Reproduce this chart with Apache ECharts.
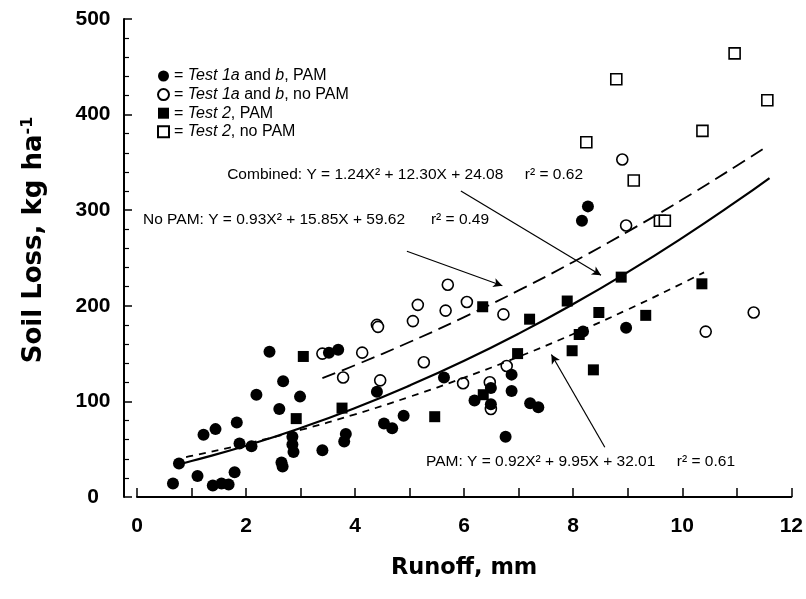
<!DOCTYPE html>
<html><head><meta charset="utf-8">
<script src="https://cdn.jsdelivr.net/npm/echarts@6/dist/echarts.min.js"></script>
<style>html,body{margin:0;padding:0;background:#fff}#c{width:806px;height:599px}</style>
</head><body><div id="c"></div><script>
// ---- data ----
const test1PAM = [[0.66,14],[0.77,35],[1.11,22],[1.22,65],[1.39,12],[1.44,71],[1.55,14],[1.68,13],[1.79,26],[1.83,78],[1.88,56],[2.10,53],[2.19,107],[2.43,152],[2.61,92],[2.65,36],[2.67,32],[2.68,121],[2.85,63],[2.85,55],[2.87,47],[2.99,105],[3.40,49],[3.52,151],[3.69,154],[3.80,58],[3.83,66],[4.40,110],[4.53,77],[4.68,72],[4.89,85],[5.63,125],[6.19,101],[6.49,114],[6.49,97],[6.76,63],[6.87,128],[6.87,111],[7.21,98],[7.36,94],[8.16,289],[8.27,304],[8.18,173],[8.97,177]];
const test1NoPAM = [[3.40,150],[3.78,125],[4.13,151],[4.40,180],[4.42,178],[4.46,122],[5.06,184],[5.15,201],[5.26,141],[5.66,195],[5.70,222],[5.98,119],[6.05,204],[6.47,120],[6.49,92],[6.72,191],[6.78,137],[8.90,353],[8.97,284],[10.43,173],[11.31,193]];
const test2PAM = [[2.92,82],[3.05,147],[3.76,93],[5.46,84],[6.34,199],[6.35,107],[6.98,150],[7.20,186],[7.89,205],[7.98,153],[8.11,170],[8.37,133],[8.47,193],[8.88,230],[9.33,190],[10.36,223]];
const test2NoPAM = [[8.24,371],[8.79,437],[9.11,331],[9.59,289],[9.68,289],[10.37,383],[10.96,464],[11.56,415]];
// fitted curves
const curveCombined = [[0.8,34.7],[1,37.6],[2,53.6],[3,72.1],[4,93.1],[5,116.6],[6,142.5],[7,170.9],[8,201.8],[9,235.2],[10,271.1],[11,309.4],[11.6,333.6]];
const curveNoPAM = [[3.4,124.3],[4,137.9],[5,162.1],[6,188.2],[7,216.1],[8,245.9],[9,277.6],[10,311.1],[11,346.5],[11.56,367]];
const curvePAM = [[0.9,41.7],[1,42.9],[2,55.6],[3,70.1],[4,86.5],[5,104.8],[6,124.8],[7,146.7],[8,170.5],[9,196.1],[10,223.5],[10.4,235.0]];
const legendNames = ['Test 1a and b, PAM','Test 1a and b, no PAM','Test 2, PAM','Test 2, no PAM'];
const legendLabels = {
  'Test 1a and b, PAM': '= {i|Test 1a} and {i|b}, PAM',
  'Test 1a and b, no PAM': '= {i|Test 1a} and {i|b}, no PAM',
  'Test 2, PAM': '= {i|Test 2}, PAM',
  'Test 2, no PAM': '= {i|Test 2}, no PAM'
};
const annotations = [
  {text:'Combined: Y = 1.24X² + 12.30X + 24.08     r² = 0.62', at:[8.18,337.5], align:'right'},
  {text:'No PAM: Y = 0.93X² + 15.85X + 59.62      r² = 0.49', at:[0.11,290], align:'left'},
  {text:'PAM: Y = 0.92X² + 9.95X + 32.01     r² = 0.61', at:[5.30,37], align:'left'}
];
const arrows = [
  [[5.94,320],[8.51,232]],
  [[4.95,257],[6.70,221]],
  [[8.58,52],[7.60,149]]
];
// ---------------------------------------
const FONT = 'Liberation Sans';
const TFONT = 'DejaVu Sans';
const chart = echarts.init(document.getElementById('c'), null, {renderer:'canvas'});
const black = '#000';
chart.setOption({
  backgroundColor:'#fff',
  animation:false,
  grid:{left:137, right:12, top:19, bottom:102},
  legend:{
    data:legendNames, orient:'vertical', left:152, top:63, itemWidth:11, itemHeight:11, itemGap:2.6,
    selectedMode:false,
    formatter:n=>legendLabels[n],
    textStyle:{fontFamily:FONT, fontSize:16, lineHeight:16, color:black, rich:{i:{fontFamily:FONT,fontSize:16,lineHeight:16,fontStyle:'italic',color:black}}}
  },
  xAxis:{
    type:'value', min:0, max:12, interval:2,
    name:'Runoff, mm', nameLocation:'middle', nameGap:60,
    nameTextStyle:{fontFamily:TFONT, fontSize:22.5, fontWeight:'bold', color:black},
    axisLine:{onZero:false,lineStyle:{color:black,width:2}},
    axisTick:{inside:true,length:9,lineStyle:{color:black,width:1.5}},
    minorTick:{show:true,splitNumber:2,length:9,lineStyle:{color:black,width:1.5}},
    splitLine:{show:false},
    axisLabel:{fontFamily:FONT,fontSize:21,fontWeight:'bold',color:black,margin:19}
  },
  yAxis:{
    type:'value', min:0, max:500, interval:100, offset:13,
    name:'Soil Loss, kg ha{s|-1}', nameLocation:'middle', nameGap:76,
    nameTextStyle:{fontFamily:TFONT, fontSize:26, fontWeight:'bold', color:black, padding:[0,0,0,36],
      rich:{s:{fontFamily:TFONT,fontSize:16,fontWeight:'bold',color:black,verticalAlign:'top',padding:[0,0,12,0]}}},
    axisLine:{show:true,onZero:false,lineStyle:{color:black,width:2}},
    axisTick:{inside:true,length:8,lineStyle:{color:black,width:1.5}},
    minorTick:{show:true,splitNumber:5,length:5,lineStyle:{color:black,width:1.2}},
    splitLine:{show:false},
    axisLabel:{fontFamily:FONT,fontSize:21,fontWeight:'bold',color:black,margin:31,align:'center'}
  },
  series:[
    {name:'Test 1a and b, PAM', type:'scatter', data:test1PAM, symbol:'circle', symbolSize:12, z:5,
      itemStyle:{color:black, opacity:1}},
    {name:'Test 1a and b, no PAM', type:'scatter', data:test1NoPAM, symbol:'circle', symbolSize:11, z:3,
      itemStyle:{color:'#fff', borderColor:black, borderWidth:1.6, opacity:1}},
    {name:'Test 2, PAM', type:'scatter', data:test2PAM, symbol:'rect', symbolSize:11, z:5,
      itemStyle:{color:black, opacity:1}},
    {name:'Test 2, no PAM', type:'scatter', data:test2NoPAM, symbol:'rect', symbolSize:11, z:3,
      itemStyle:{color:'#fff', borderColor:black, borderWidth:1.6, opacity:1}},
    {name:'Combined fit', type:'line', data:curveCombined, smooth:true, showSymbol:false, z:6,
      lineStyle:{color:black,width:2.2,type:'solid'}},
    {name:'No PAM fit', type:'line', data:curveNoPAM, smooth:true, showSymbol:false, z:6,
      lineStyle:{color:black,width:1.8,type:[14,7]}},
    {name:'PAM fit', type:'line', data:curvePAM, smooth:true, showSymbol:false, z:6,
      lineStyle:{color:black,width:1.8,type:[7,6]}},
    {name:'arrows', type:'line', data:[], z:7,
      markLine:{silent:true, symbol:['none','arrow'], symbolSize:[7,9], animation:false,
        label:{show:false}, lineStyle:{color:black,width:1.2,type:'solid'},
        data:arrows.map(a=>[{coord:a[0]},{coord:a[1]}])}}
  ]
});
function drawAnnotations(){
  chart.setOption({graphic:annotations.map(a=>{
    const p = chart.convertToPixel({gridIndex:0}, a.at);
    return {type:'text', x:p[0], y:p[1], z:100, silent:true,
      style:{text:a.text, fontFamily:FONT, fontSize:15.5, fill:black, align:a.align, verticalAlign:'middle'}};
  })});
}
drawAnnotations();
</script></body></html>
